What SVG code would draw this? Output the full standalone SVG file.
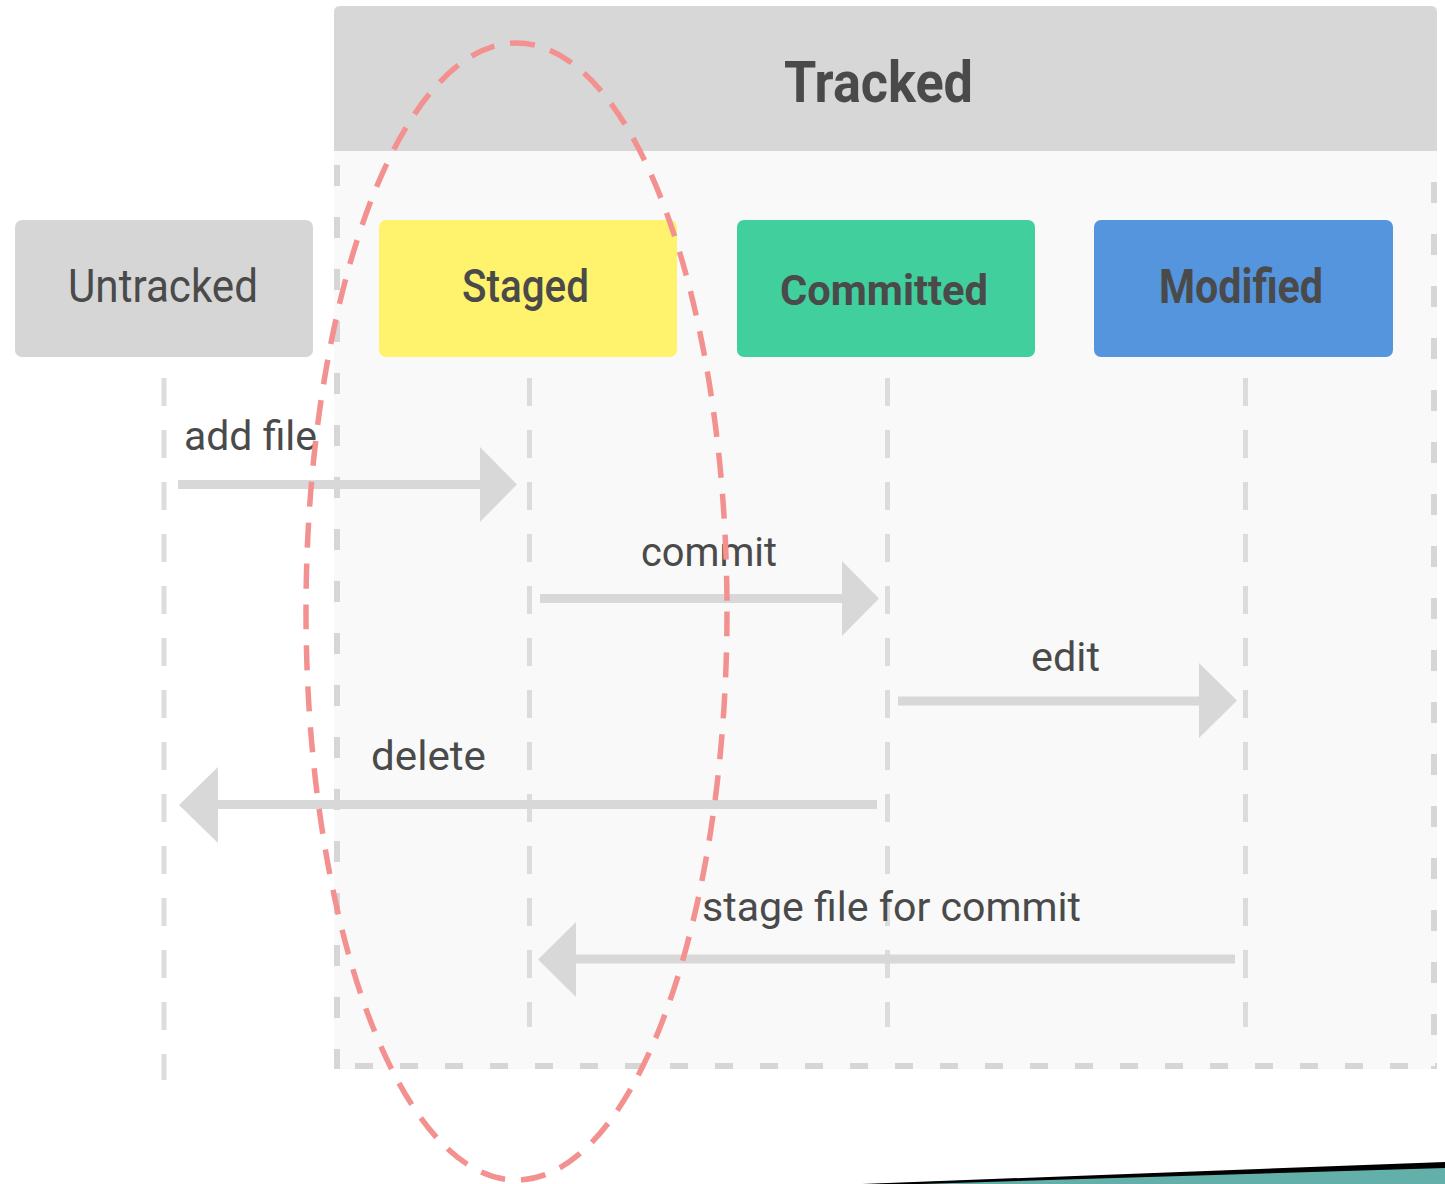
<svg xmlns="http://www.w3.org/2000/svg" width="1445" height="1184" viewBox="0 0 1445 1184">
<style>
.t{font-family:Roboto,"Liberation Sans",sans-serif;fill:#4a4a4a}
.lbl{font-size:40px;font-weight:400}
.life{stroke:#dcdcdc;stroke-width:5;stroke-dasharray:28 24;fill:none}
.brd{stroke:#d6d6d6;stroke-width:6;fill:none}
.shaft{stroke:#d8d8d8;stroke-width:9;fill:none}
.head{fill:#d8d8d8}
</style>
<rect width="1445" height="1184" fill="#ffffff"/>
<g id="tracked">
<rect x="334" y="151" width="1103" height="918" fill="#f9f9f9"/>
<path d="M334 151 V12 Q334 6 340 6 H1431 Q1437 6 1437 12 V151 Z" fill="#d7d7d7"/>
<line class="brd" x1="337" y1="165" x2="337" y2="1069" stroke-dasharray="21 31"/>
<line class="brd" x1="1434" y1="182" x2="1434" y2="1069" stroke-dasharray="21 31"/>
<line class="brd" x1="355" y1="1066" x2="1437" y2="1066" stroke-dasharray="18 27"/>
<text class="t" x="784" y="102" font-size="58" font-weight="700" textLength="189" lengthAdjust="spacingAndGlyphs">Tracked</text>
</g>
<g id="lifelines">
<line class="life" x1="164" y1="378" x2="164" y2="1080" stroke="#d6d6d6"/>
<line class="life" x1="529.5" y1="378" x2="529.5" y2="1027"/>
<line class="life" x1="887.5" y1="378" x2="887.5" y2="1027"/>
<line class="life" x1="1245.5" y1="378" x2="1245.5" y2="1027"/>
</g>
<g id="untracked">
<rect x="15" y="220" width="298" height="137" rx="7" fill="#d6d6d6"/>
<text class="t" x="68" y="302" font-size="47" textLength="190" lengthAdjust="spacingAndGlyphs">Untracked</text>
</g>
<g id="staged">
<rect x="379" y="220" width="298" height="137" rx="7" fill="#fff36e"/>
<text class="t" x="462" y="302" font-size="47" font-weight="500" textLength="127" lengthAdjust="spacingAndGlyphs">Staged</text>
</g>
<g id="committed">
<rect x="737" y="220" width="298" height="137" rx="7" fill="#42cf9e"/>
<text class="t" x="780" y="305" font-size="43" font-weight="700" textLength="208" lengthAdjust="spacingAndGlyphs">Committed</text>
</g>
<g id="modified">
<rect x="1094" y="220" width="299" height="137" rx="7" fill="#5495de"/>
<text class="t" x="1159" y="303" font-size="48" font-weight="700" textLength="164" lengthAdjust="spacingAndGlyphs">Modified</text>
</g>
<g id="connectors">
<line class="shaft" x1="178" y1="484.5" x2="482" y2="484.5"/>
<polygon class="head" points="480,447 517,484.5 480,522"/>
<text class="t lbl" x="184" y="450" textLength="133" lengthAdjust="spacingAndGlyphs">add file</text>
<line class="shaft" x1="540" y1="598.5" x2="844" y2="598.5"/>
<polygon class="head" points="842,561 879,598.5 842,636"/>
<text class="t lbl" x="641" y="566" textLength="136" lengthAdjust="spacingAndGlyphs">commit</text>
<line class="shaft" x1="898" y1="701" x2="1201" y2="701"/>
<polygon class="head" points="1199,663 1237,700.5 1199,738"/>
<text class="t lbl" x="1031" y="671" textLength="69" lengthAdjust="spacingAndGlyphs">edit</text>
<line class="shaft" x1="877" y1="804.5" x2="216" y2="804.5"/>
<polygon class="head" points="218,767 179,805 218,843"/>
<text class="t lbl" x="371" y="770" textLength="115" lengthAdjust="spacingAndGlyphs">delete</text>
<line class="shaft" x1="1235" y1="959" x2="574" y2="959"/>
<polygon class="head" points="576,922 538,959.5 576,997"/>
<text class="t lbl" x="702" y="921" textLength="379" lengthAdjust="spacingAndGlyphs">stage file for commit</text>
</g>
<g id="highlight">
<ellipse cx="516.5" cy="611.5" rx="210.5" ry="568.5" fill="none" stroke="#f39191" stroke-width="5.5" stroke-dasharray="25 16"/>
</g>
<g id="corner">
<polygon points="870,1184 1445,1164 1445,1184" fill="#63afa9"/>
<polygon points="862,1184 1445,1162 1445,1168 920,1184" fill="#000000"/>
</g>
</svg>
